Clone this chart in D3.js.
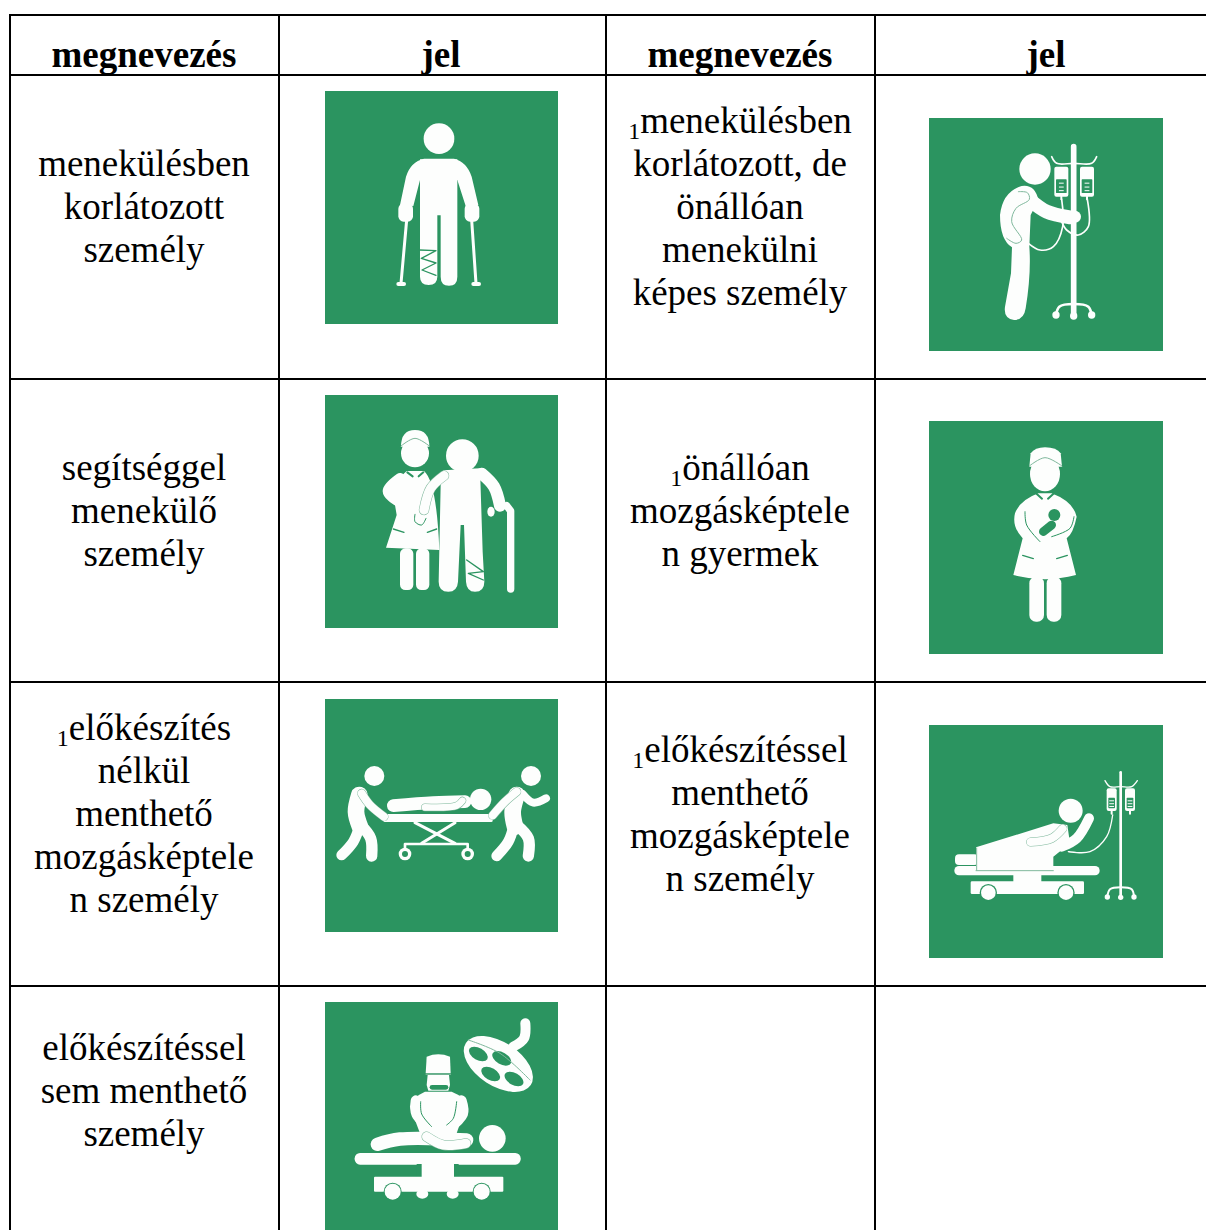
<!DOCTYPE html>
<html>
<head>
<meta charset="utf-8">
<script src="https://cdn.jsdelivr.net/npm/d3@7"></script>
<style>
  html, body { margin: 0; padding: 0; background: #fff; overflow: hidden; }
  text { font-family: "Liberation Serif", serif; fill: #000; }
</style>
</head>
<body>
<div id="table"></div>
<script>
// Table content
var headers = ["megnevezés", "jel", "megnevezés", "jel"];
var leftLabels = [
  ["menekülésben", "korlátozott", "személy"],
  ["segítséggel", "menekülő", "személy"],
  ["1előkészítés", "nélkül", "menthető", "mozgásképtele", "n személy"],
  ["előkészítéssel", "sem menthető", "személy"]
];
var rightLabels = [
  ["1menekülésben", "korlátozott, de", "önállóan", "menekülni", "képes személy"],
  ["1önállóan", "mozgásképtele", "n gyermek"],
  ["1előkészítéssel", "menthető", "mozgásképtele", "n személy"],
  []
];
var leftIcons = ["crutches", "helped", "stretcher", "surgery"];
var rightIcons = ["drip", "baby", "bed", null];

// Layout
var colEdges = [10, 279, 606, 875];
var rowEdges = [15, 75, 379, 682, 986];
var textMiddle = [218.5, 522.5, 826, 1102.5];
var leftIconY = [91, 395, 699, 1002];
var rightIconY = [118, 421, 725, null];
var leftIconX = 325, rightIconX = 929;
var leftTextX = 144, rightTextX = 740, lineStep = 43;

var GREEN = "#2b9460", WHITE = "#fdfefd", EDGE = "#7fb89c";

var svg = d3.select("#table").append("svg")
  .attr("width", 1206).attr("height", 1230)
  .style("display", "block");

// ----------------------------------------------------------------
// Grid
// ----------------------------------------------------------------
svg.selectAll(".hline").data(rowEdges).enter().append("line")
  .attr("x1", 9).attr("x2", 1206)
  .attr("y1", d => d).attr("y2", d => d)
  .attr("stroke", "#000").attr("stroke-width", 2);

svg.selectAll(".vline").data(colEdges).enter().append("line")
  .attr("x1", d => d).attr("x2", d => d)
  .attr("y1", 14).attr("y2", 1230)
  .attr("stroke", "#000").attr("stroke-width", 2);

// ----------------------------------------------------------------
// Text
// ----------------------------------------------------------------
var headerX = [144, 441, 740, 1046];
svg.selectAll(".head").data(headers).enter().append("text")
  .attr("x", (d, i) => headerX[i]).attr("y", 67)
  .attr("text-anchor", "middle")
  .style("font-size", "37px").style("font-weight", "bold")
  .text(d => d);

function drawLabel(lines, x, middle) {
  lines.forEach((line, i) => {
    var y = middle + (i - (lines.length - 1) / 2) * lineStep;
    var t = svg.append("text").attr("x", x).attr("y", y)
      .attr("text-anchor", "middle").style("font-size", "37px");
    if (line[0] === "1") {
      t.append("tspan").attr("dy", 6).style("font-size", "24px").text("1");
      t.append("tspan").attr("dy", -6).text(line.slice(1));
    } else {
      t.text(line);
    }
  });
}
leftLabels.forEach((l, i) => drawLabel(l, leftTextX, textMiddle[i]));
rightLabels.forEach((l, i) => drawLabel(l, rightTextX, textMiddle[i]));

// ----------------------------------------------------------------
// Pictograms, drawn in 3x units measured from the icon's own crop
// ----------------------------------------------------------------
var straight = d3.line();
var smooth = d3.line().curve(d3.curveCatmullRom);

function pen(g) {
  return {
    s: (pts, w, c) => g.append("path").attr("d", straight(pts)).attr("fill", "none")
      .attr("stroke", c || WHITE).attr("stroke-width", w)
      .attr("stroke-linecap", "round").attr("stroke-linejoin", "round"),
    k: (pts, w, c) => g.append("path").attr("d", smooth(pts)).attr("fill", "none")
      .attr("stroke", c || WHITE).attr("stroke-width", w)
      .attr("stroke-linecap", "round").attr("stroke-linejoin", "round"),
    f: (d, c) => g.append("path").attr("d", d).attr("fill", c || WHITE),
    c: (x, y, r, c) => g.append("circle").attr("cx", x).attr("cy", y).attr("r", r).attr("fill", c || WHITE),
    e: (x, y, rx, ry, rot, c) => g.append("ellipse").attr("rx", rx).attr("ry", ry)
      .attr("transform", `translate(${x},${y}) rotate(${rot})`).attr("fill", c || WHITE),
    r: (x, y, w, h, rx, c) => g.append("rect").attr("x", x).attr("y", y).attr("width", w).attr("height", h)
      .attr("rx", rx).attr("fill", c || WHITE),
    // white limb with a thin edge
    o: function (pts, w) {
      this.k(pts, w + 3, EDGE);
      this.k(pts, w);
    }
  };
}

function ivBag(p, x, y, w, h) {
  p.r(x, y, w, h, 6);
  p.r(x + 5, y + h * 0.42, w - 10, h * 0.46, 2, GREEN);
  p.s([[x + w / 2 - 6, y + h * 0.55], [x + w / 2 + 6, y + h * 0.55]], 3);
  p.s([[x + w / 2 - 6, y + h * 0.68], [x + w / 2 + 6, y + h * 0.68]], 3);
  p.s([[x + w / 2 - 6, y + h * 0.8], [x + w / 2 + 6, y + h * 0.8]], 3);
  p.s([[x + w / 2, y + h], [x + w / 2, y + h + 8]], 6);
}

var icons = {
  crutches: {
    origin: [75, 33],
    draw: function (p) {
      p.c(417, 176, 46);
      p.f("M360,238 L472,238 L472,590 Q472,617 447,617 Q422,617 422,590 L422,406 L412,406 L412,590 Q412,615 386,615 Q360,615 360,590 Z");
      // shoulders and both arms in one shape
      p.f("M372,236 L462,236 Q500,245 515,290 L535,375 L497,378 L472,300 L360,300 L340,378 L300,375 L318,290 Q332,245 372,236 Z");
      p.r(295, 370, 44, 55, 16);
      p.r(494, 370, 44, 55, 16);
      p.s([[320, 420], [303, 610]], 9);
      p.s([[515, 420], [528, 610]], 9);
      p.s([[295, 612], [312, 612]], 12);
      p.s([[520, 612], [537, 612]], 12);
      p.s([[358, 510], [408, 512], [364, 535], [408, 549], [366, 570], [408, 586]], 4, GREEN);
    }
  },
  drip: {
    origin: [57, 54],
    draw: function (p) {
      p.c(375, 207, 47);
      p.f("M335,258 Q375,252 385,300 L362,345 L358,440 Q364,520 347,625 Q342,660 312,660 Q280,655 285,620 L303,520 L306,442 Q270,420 270,345 Q278,275 335,258 Z");
      p.k([[360, 300], [410, 335], [480, 352]], 42);
      p.c(495, 350, 18);
      p.k([[325, 275], [352, 278], [358, 298], [318, 325], [305, 365], [335, 420], [318, 430], [290, 415]], 3, EDGE);
      p.s([[491, 140], [491, 640]], 17);
      p.k([[438, 645], [448, 620], [491, 612], [535, 620], [545, 645]], 8);
      p.c(438, 645, 11); p.c(491, 648, 11); p.c(545, 645, 11);
      p.k([[425, 170], [440, 190], [491, 190], [545, 190], [560, 170]], 5);
      ivBag(p, 433, 200, 42, 90);
      ivBag(p, 510, 200, 42, 90);
      p.k([[455, 298], [458, 380], [430, 440], [390, 450], [355, 430]], 5);
      p.k([[532, 298], [535, 380], [505, 405], [470, 390], [455, 365]], 5);
    }
  },
  helped: {
    origin: [75, 30],
    draw: function (p) {
      // nurse
      p.f("M303,185 Q303,135 345,135 Q388,135 388,185 Z");
      p.c(345, 205, 42);
      p.k([[303, 183], [345, 160], [388, 183]], 3, EDGE);
      p.f("M320,258 L372,258 Q410,290 418,495 L258,488 L290,390 L275,300 Z");
      p.r(300, 490, 40, 125, 16);
      p.r(348, 490, 40, 125, 16);
      p.s([[322, 262], [338, 274]], 6, GREEN);
      p.s([[356, 274], [370, 262]], 6, GREEN);
      p.s([[280, 432], [312, 442]], 4, GREEN);
      p.s([[382, 442], [410, 432]], 4, GREEN);
      p.k([[300, 280], [264, 318], [300, 352], [365, 378]], 32);
      p.k([[345, 388], [345, 410], [365, 420], [378, 400]], 3, GREEN);
      // man
      p.c(487, 212, 49);
      p.f("M430,256 L540,250 L548,500 L553,590 Q553,620 525,620 Q500,620 498,590 L492,420 L482,420 L474,590 Q472,620 445,620 Q416,620 416,590 L422,300 Z");
      p.k([[545, 266], [582, 305], [600, 362]], 36);
      p.o([[432, 272], [392, 310], [372, 375]], 28);
      p.e(573, 380, 11, 15, 0);
      p.s([[620, 362], [632, 378], [632, 612]], 22);
      p.s([[500, 525], [550, 560], [505, 565], [550, 585]], 4, GREEN);
    }
  },
  baby: {
    origin: [57, 33],
    draw: function (p) {
      p.f("M358,170 L362,130 Q375,112 405,112 Q440,112 452,130 L456,170 Z");
      p.e(405, 192, 45, 52, 0);
      p.k([[358, 168], [405, 143], [456, 168]], 3, EDGE);
      p.f("M385,250 L425,250 Q490,275 500,320 Q490,370 470,385 L498,495 Q405,520 310,495 L338,385 Q305,350 315,310 Q330,270 385,250 Z");
      p.r(358, 500, 44, 135, 20);
      p.r(410, 500, 44, 135, 20);
      p.s([[378, 250], [396, 266]], 6, GREEN);
      p.s([[414, 266], [432, 250]], 6, GREEN);
      p.c(433, 315, 18, GREEN);
      p.k([[425, 345], [400, 365]], 26, GREEN);
      p.k([[345, 305], [350, 345], [390, 395]], 3, GREEN);
      p.k([[492, 320], [480, 355], [425, 380]], 3, GREEN);
      p.s([[338, 436], [370, 446]], 4, GREEN);
      p.s([[440, 446], [472, 436]], 4, GREEN);
    }
  },
  stretcher: {
    origin: [75, 27],
    draw: function (p) {
      p.r(250, 372, 328, 24, 4);
      p.s([[345, 398], [465, 460]], 9);
      p.s([[465, 398], [365, 460]], 9);
      p.s([[315, 485], [315, 462], [503, 462], [503, 485]], 8);
      [315, 503].forEach(x => {
        p.c(x, 492, 19);
        p.c(x, 492, 9, GREEN);
      });
      p.k([[280, 347], [400, 338], [495, 335]], 38);
      p.o([[375, 352], [470, 347], [487, 332]], 20);
      p.c(542, 328, 32);
      // left bearer
      p.c(223, 258, 30);
      p.k([[178, 315], [168, 365], [180, 410]], 50);
      p.k([[180, 405], [160, 455], [125, 495]], 32);
      p.k([[182, 405], [212, 445], [215, 498]], 34);
      p.o([[185, 310], [210, 345], [252, 380]], 24);
      // right bearer
      p.c(693, 258, 30);
      p.k([[650, 315], [638, 365], [645, 410]], 50);
      p.k([[668, 312], [700, 338], [738, 325]], 24);
      p.k([[642, 405], [625, 455], [590, 498]], 32);
      p.k([[650, 405], [685, 445], [685, 498]], 34);
      p.o([[650, 305], [615, 335], [578, 376]], 24);
    }
  },
  bed: {
    origin: [57, 45],
    draw: function (p) {
      p.r(135, 433, 70, 32, 12);
      p.r(133, 468, 436, 28, 14);
      p.r(310, 490, 84, 30, 0);
      p.r(182, 514, 340, 38, 4);
      [235, 468].forEach(x => {
        p.c(x, 548, 26, GREEN);
        p.c(x, 548, 22);
      });
      p.f("M198,412 L430,340 L472,345 L480,400 L430,440 L430,482 L198,482 Z");
      p.k([[198, 482], [430, 482]], 3, EDGE);
      p.k([[200, 414], [200, 480]], 3, EDGE);
      p.c(482, 302, 36);
      p.k([[455, 410], [500, 385], [537, 325]], 30);
      p.o([[362, 396], [425, 385], [458, 356]], 24);
      p.k([[608, 315], [590, 380], [540, 425], [475, 425]], 4);
      p.s([[632, 187], [632, 562]], 8);
      p.k([[592, 560], [600, 538], [632, 532], [665, 538], [672, 560]], 6);
      p.c(592, 561, 8); p.c(632, 562, 8); p.c(672, 561, 8);
      p.k([[585, 212], [600, 230], [632, 230], [665, 230], [682, 212]], 4);
      ivBag(p, 590, 235, 30, 68);
      ivBag(p, 645, 235, 30, 68);
    }
  },
  surgery: {
    origin: [75, 36],
    draw: function (p) {
      p.k([[640, 170], [672, 145], [676, 100]], 30);
      p.e(595, 222, 116, 66, 33);
      [[535, 192], [605, 205], [572, 252], [642, 267]].forEach(h => p.e(h[0], h[1], 31, 18, 30, GREEN));
      p.k([[505, 150], [600, 190], [690, 270]], 3, EDGE);
      // surgeon
      p.f("M377,250 L380,200 Q415,186 450,200 L452,250 Z");
      p.f("M383,255 L447,255 L450,285 L445,302 L385,302 L380,285 Z");
      p.s([[396, 292], [438, 292]], 14, GREEN);
      p.s([[378, 253], [452, 253]], 3, EDGE);
      p.f("M375,305 L455,305 Q495,320 497,350 L470,430 L360,430 L330,350 Q340,320 375,305 Z");
      p.k([[348, 332], [350, 372], [405, 425]], 32);
      p.k([[484, 332], [488, 372], [442, 418]], 32);
      p.k([[362, 335], [365, 372], [395, 410]], 3, GREEN);
      p.k([[470, 335], [460, 385], [440, 405]], 3, GREEN);
      // patient
      p.k([[232, 463], [300, 447], [500, 450]], 40);
      p.o([[380, 440], [430, 465], [498, 460]], 28);
      p.c(577, 445, 40);
      // table
      p.r(164, 489, 498, 35, 16);
      p.r(350, 522, 126, 40, 0, GREEN);
      p.r(365, 520, 97, 45, 0);
      p.r(222, 560, 388, 45, 3);
      p.c(278, 605, 27, GREEN); p.c(278, 605, 24);
      p.c(545, 605, 27, GREEN); p.c(545, 605, 24);
      p.e(367, 612, 18, 14, 0); p.e(458, 612, 18, 14, 0);
    }
  }
};

function drawIcon(name, x, y, w) {
  var def = icons[name];
  svg.append("rect").attr("x", x).attr("y", y)
    .attr("width", w).attr("height", 233).attr("fill", GREEN);
  var g = svg.append("g")
    .attr("transform", `translate(${x},${y}) scale(${1 / 3}) translate(${-def.origin[0]},${-def.origin[1]})`);
  def.draw(pen(g));
}

leftIcons.forEach((name, i) => drawIcon(name, leftIconX, leftIconY[i], 233));
rightIcons.forEach((name, i) => { if (name) drawIcon(name, rightIconX, rightIconY[i], 234); });
</script>
</body>
</html>
